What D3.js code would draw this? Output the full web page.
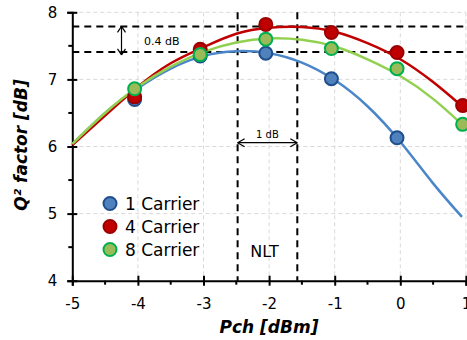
<!DOCTYPE html>
<html>
<head>
<meta charset="utf-8">
<script src="https://cdn.jsdelivr.net/npm/d3@7"></script>
<style>
  body { margin: 0; background: #fff; }
  text { font-family: "DejaVu Sans", sans-serif; }
</style>
</head>
<body>
<div id="chart"></div>
<script>
// measured points
const pointX = [-4.05, -3.05, -2.05, -1.05, -0.05, 0.95]
const carrier1 = [6.70, 7.35, 7.39, 7.01, 6.13, null]
const carrier4 = [6.74, 7.45, 7.82, 7.70, 7.40, 6.61]
const carrier8 = [6.86, 7.37, 7.60, 7.46, 7.16, 6.33]

// trend lines
const fitX = [-5, -4.5, -4, -3.5, -3, -2.5, -2, -1.5, -1, -0.5, 0, 0.5, 0.94]
const fit1 = [6.03, 6.50, 6.87, 7.16, 7.35, 7.42, 7.39, 7.25, 6.99, 6.60, 6.07, 5.45, 4.95]
const fit4 = [6.02, 6.46, 6.89, 7.24, 7.48, 7.68, 7.77, 7.78, 7.71, 7.54, 7.30, 6.96, 6.60]
const fit8 = [6.04, 6.50, 6.89, 7.19, 7.41, 7.55, 7.61, 7.59, 7.49, 7.30, 7.05, 6.71, 6.33]

const xTicks = [-5, -4, -3, -2, -1, 0, 1]
const yTicks = [4, 5, 6, 7, 8]
const seriesNames = ["1 Carrier", "4 Carrier", "8 Carrier"]

// annotation levels
const levelLines = [7.79, 7.41]
const nltBounds = [-2.48, -1.57]

const initChart = () => {
  const width = 467
  const height = 340

  const svg = d3.select("#chart").append("svg")
    .attr("width", width)
    .attr("height", height)

  const x = d3.scaleLinear().domain([-5, 1]).range([72.3, 465.9])
  const y = d3.scaleLinear().domain([4, 8]).range([280.7, 12.3])

  // grid
  svg.append("g")
    .selectAll("line.gx")
    .data(xTicks.slice(1))
    .join("line")
    .attr("x1", d => x(d)).attr("x2", d => x(d))
    .attr("y1", y(8)).attr("y2", y(4))
    .attr("stroke", "#d9d9d9").attr("stroke-width", 1)
    .attr("stroke-dasharray", "4,3")
  svg.append("g")
    .selectAll("line.gy")
    .data(yTicks.slice(1))
    .join("line")
    .attr("x1", x(-5)).attr("x2", x(1))
    .attr("y1", d => y(d)).attr("y2", d => y(d))
    .attr("stroke", "#d9d9d9").attr("stroke-width", 1)
    .attr("stroke-dasharray", "4,3")

  // black dashed guides
  svg.append("g")
    .selectAll("line")
    .data(levelLines)
    .join("line")
    .attr("x1", x(-5)).attr("x2", x(1))
    .attr("y1", d => y(d)).attr("y2", d => y(d))
    .attr("stroke", "#000").attr("stroke-width", 2)
    .attr("stroke-dasharray", "7,5")
  svg.append("g")
    .selectAll("line")
    .data(nltBounds)
    .join("line")
    .attr("x1", d => x(d)).attr("x2", d => x(d))
    .attr("y1", y(8)).attr("y2", y(4))
    .attr("stroke", "#000").attr("stroke-width", 2)
    .attr("stroke-dasharray", "7,5")

  // axes
  const xAxis = g => g
    .attr("transform", `translate(0,${y(4)})`)
    .call(d3.axisBottom(x).tickValues(xTicks).tickSize(5).tickPadding(10).tickFormat(d => String(d)))
    .call(g => g.select(".domain").attr("stroke-width", 2))
    .call(g => g.selectAll(".tick line").attr("y1", -5).attr("stroke-width", 2))
    .call(g => g.selectAll(".tick text").attr("font-size", 15).attr("font-family", "Liberation Sans, Arial").attr("dy", "0.9em"))

  const yAxis = g => g
    .attr("transform", `translate(${x(-5)},0)`)
    .call(d3.axisLeft(y).tickValues(yTicks).tickSize(5).tickPadding(10).tickFormat(d => String(d)))
    .call(g => g.select(".domain").attr("stroke-width", 2))
    .call(g => g.selectAll(".tick line").attr("x1", 5).attr("stroke-width", 2))
    .call(g => g.selectAll(".tick text").attr("font-size", 15).attr("font-family", "Liberation Sans, Arial"))

  svg.append("g").call(xAxis)
  svg.append("g").call(yAxis)

  // minor ticks
  svg.append("g")
    .selectAll("line")
    .data(d3.range(-4.5, 1, 1))
    .join("line")
    .attr("x1", d => x(d)).attr("x2", d => x(d))
    .attr("y1", y(4)).attr("y2", y(4) + 4)
    .attr("stroke", "#000").attr("stroke-width", 2)
  svg.append("g")
    .selectAll("line")
    .data(d3.range(4.5, 8, 1))
    .join("line")
    .attr("x1", x(-5) - 4).attr("x2", x(-5))
    .attr("y1", d => y(d)).attr("y2", d => y(d))
    .attr("stroke", "#000").attr("stroke-width", 2)

  // axis titles
  svg.append("text")
    .attr("x", 269).attr("y", 333)
    .attr("text-anchor", "middle")
    .attr("font-size", 17).attr("font-weight", "bold").attr("font-style", "italic")
    .text("Pch [dBm]")
  svg.append("text")
    .attr("transform", `translate(27,145) rotate(-90)`)
    .attr("text-anchor", "middle")
    .attr("font-size", 17).attr("font-weight", "bold").attr("font-style", "italic")
    .text("Q² factor [dB]")

  const series = [
    { name: seriesNames[0], pts: carrier1, fit: fit1, line: "#4a86c8", fill: "#4f81bd", stroke: "#1f4e8c" },
    { name: seriesNames[1], pts: carrier4, fit: fit4, line: "#c00000", fill: "#c00000", stroke: "#9a0000" },
    { name: seriesNames[2], pts: carrier8, fit: fit8, line: "#92d050", fill: "#9bbb59", stroke: "#00b050" }
  ]

  const line = d3.line()
    .x((d, i) => x(fitX[i]))
    .y(d => y(d))
    .curve(d3.curveNatural)

  series.forEach(s => {
    svg.append("path")
      .datum(s.fit)
      .attr("fill", "none")
      .attr("stroke", s.line)
      .attr("stroke-width", 2.5)
      .attr("d", line)
  })

  series.forEach(s => {
    svg.append("g")
      .selectAll("circle")
      .data(s.pts.map((v, i) => ({ x: pointX[i], v })).filter(d => d.v != null))
      .join("circle")
      .attr("cx", d => x(d.x))
      .attr("cy", d => y(d.v))
      .attr("r", 6.5)
      .attr("fill", s.fill)
      .attr("stroke", s.stroke)
      .attr("stroke-width", 2)
  })

  // legend
  const legend = svg.append("g")
  series.forEach((s, i) => {
    const ly = 203.5 + i * 23
    legend.append("circle")
      .attr("cx", 110).attr("cy", ly).attr("r", 6.5)
      .attr("fill", s.fill).attr("stroke", s.stroke).attr("stroke-width", 2)
    legend.append("text")
      .attr("x", 125).attr("y", ly + 6)
      .attr("font-size", 17)
      .text(s.name)
  })

  // annotations
  const arrow = (x1, y1, x2, y2) => {
    svg.append("line")
      .attr("x1", x1).attr("y1", y1).attr("x2", x2).attr("y2", y2)
      .attr("stroke", "#000").attr("stroke-width", 1.2)
  }
  const ax = x(-4.25)
  const ay1 = y(levelLines[0])
  const ay2 = y(levelLines[1]) + 3
  arrow(ax, ay1, ax, ay2)
  arrow(ax - 4, ay1 + 6, ax, ay1); arrow(ax + 4, ay1 + 6, ax, ay1)
  arrow(ax - 4, ay2 - 6, ax, ay2); arrow(ax + 4, ay2 - 6, ax, ay2)
  svg.append("text")
    .attr("x", 144).attr("y", 45)
    .attr("font-size", 11)
    .text("0.4 dB")

  const hy = 142.7
  const hx1 = x(nltBounds[0])
  const hx2 = x(nltBounds[1])
  arrow(hx1, hy, hx2, hy)
  arrow(hx1 + 7, hy - 4, hx1, hy); arrow(hx1 + 7, hy + 4, hx1, hy)
  arrow(hx2 - 7, hy - 4, hx2, hy); arrow(hx2 - 7, hy + 4, hx2, hy)
  svg.append("text")
    .attr("x", (hx1 + hx2) / 2).attr("y", 138)
    .attr("text-anchor", "middle")
    .attr("font-size", 10)
    .text("1 dB")

  svg.append("text")
    .attr("x", 264.5).attr("y", 257)
    .attr("text-anchor", "middle")
    .attr("font-size", 16)
    .text("NLT")
}

initChart()
</script>
</body>
</html>
